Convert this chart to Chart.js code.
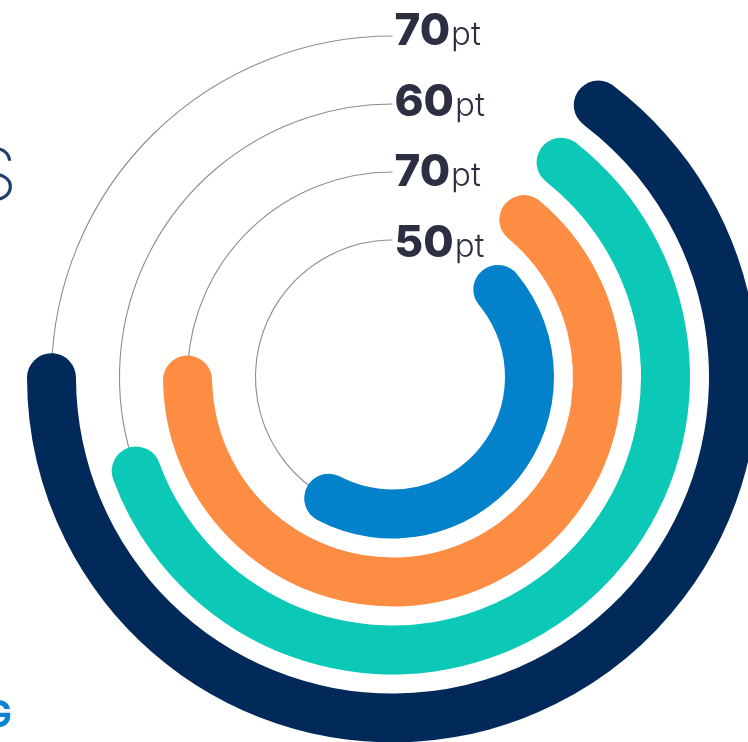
<!DOCTYPE html>
<html>
<head>
<meta charset="utf-8">
<script src="https://cdn.jsdelivr.net/npm/chart.js@4.4.1/dist/chart.umd.min.js"></script>
<style>
  html, body { margin: 0; padding: 0; overflow: hidden; background: #fff; }
  #ringChart { position: absolute; left: 0; top: 0; }
</style>
</head>
<body>
<canvas id="ringChart" width="800" height="780"></canvas>
<script>
// Scores, outer ring first
const scoreValues = ['70', '60', '70', '50'];
const scoreUnit = 'pt';
// Arc extents (degrees, clockwise from 12 o'clock)
const arcStart = [33, 33, 33, 40];
const arcSweep = [241, 222, 243, 178];
const ringColors = ['#01295a', '#0cc9b7', '#fe8d44', '#0381ca'];

const RING = 49; // ring thickness
const GAP = 19;  // white space between rings
const CLEAR = 'rgba(0,0,0,0)';

// One dataset per ring, with a transparent spacer between them
const datasets = [];
scoreValues.forEach((v, i) => {
  if (i > 0) {
    datasets.push({ data: [1], backgroundColor: [CLEAR], weight: GAP });
  }
  datasets.push({
    data: [arcStart[i], arcSweep[i], 360 - arcStart[i] - arcSweep[i]],
    backgroundColor: [CLEAR, ringColors[i], CLEAR],
    borderRadius: RING / 2,
    weight: RING,
    ringIndex: i
  });
});

// Thin guide lines + score labels at the top of each ring
const ringLabels = {
  id: 'ringLabels',
  beforeDatasetsDraw(chart) {
    const ctx = chart.ctx;
    ctx.save();
    ctx.strokeStyle = '#8d8d8d';
    ctx.lineWidth = 1.1;
    chart.data.datasets.forEach((ds, di) => {
      if (ds.ringIndex === undefined) return;
      const arc = chart.getDatasetMeta(di).data[1];
      const r = (arc.innerRadius + arc.outerRadius) / 2;
      ctx.beginPath();
      ctx.arc(arc.x, arc.y, r, arc.endAngle - 0.05, Math.PI * 1.5);
      ctx.stroke();
    });
    ctx.restore();
  },
  afterDatasetsDraw(chart) {
    const ctx = chart.ctx;
    ctx.save();
    ctx.fillStyle = '#2c2f42';
    ctx.textBaseline = 'alphabetic';
    ctx.textAlign = 'left';
    chart.data.datasets.forEach((ds, di) => {
      const i = ds.ringIndex;
      if (i === undefined) return;
      const arc = chart.getDatasetMeta(di).data[1];
      const r = (arc.innerRadius + arc.outerRadius) / 2;
      const base = arc.y - r + 9 + 2.6 * i;
      const x = arc.x + 2;
      ctx.font = '800 44px Inter';
      ctx.fillText(scoreValues[i], x, base);
      const w = ctx.measureText(scoreValues[i]).width;
      ctx.font = '300 33px Inter';
      ctx.fillText(scoreUnit, x + w + 1, base);
    });

    // cropped text fragments at the left edge
    ctx.textAlign = 'right';
    ctx.font = '200 72px Inter';
    ctx.fillStyle = '#1f3f6f';
    ctx.fillText('S', 17, 200);
    ctx.font = '700 37px Inter';
    ctx.fillStyle = '#0a84d0';
    ctx.fillText('G', 12, 727);
    ctx.restore();
  }
};

const chart = new Chart(document.getElementById('ringChart'), {
  type: 'doughnut',
  data: {
    labels: ['lead', 'score', 'rest'],
    datasets: datasets
  },
  options: {
    responsive: false,
    animation: false,
    events: [],
    cutout: 112.5,
    elements: { arc: { borderWidth: 0 } },
    layout: { padding: { left: 27, top: 11.5, right: 42, bottom: 37.5 } },
    plugins: {
      legend: { display: false },
      tooltip: { enabled: false }
    }
  },
  plugins: [ringLabels]
});
</script>
</body>
</html>
